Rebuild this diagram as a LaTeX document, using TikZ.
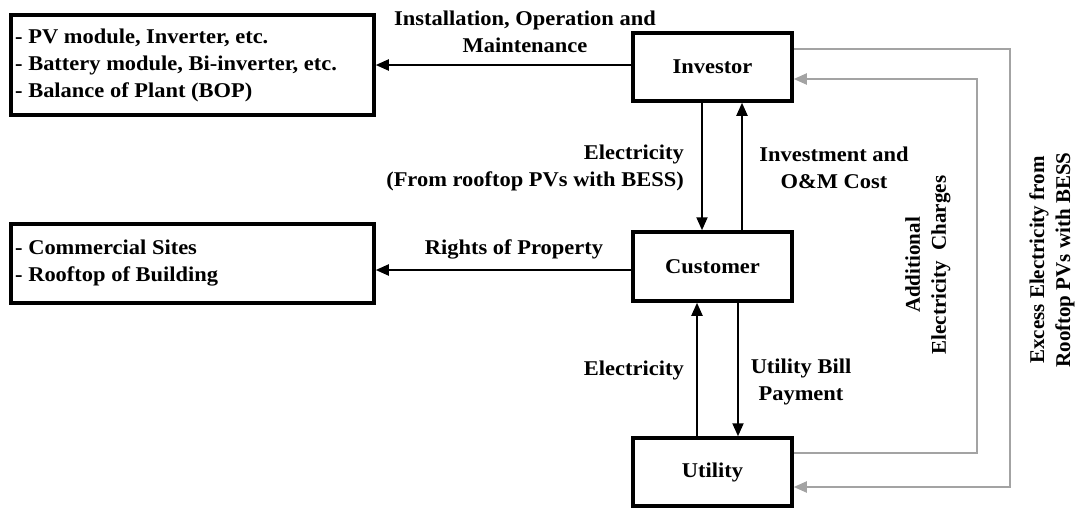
\documentclass[tikz,border=0pt]{standalone}
\usepackage{fontspec}
\setmainfont[FakeStretch=1.07]{Liberation Serif}
\newfontfamily\rotfont{Liberation Serif}
\usetikzlibrary{arrows.meta}
\definecolor{lgray}{HTML}{A3A3A3}
\begin{document}
\begin{tikzpicture}[x=1pt,y=-1pt,
  font=\fontsize{21}{27}\selectfont\bfseries,
  box/.style={draw,line width=3.5pt,minimum width=159pt,minimum height=68pt,inner sep=0pt},
  listbox/.style={draw,line width=3.5pt,inner sep=0pt,minimum width=363pt},
  arr/.style={line width=2pt,-{Triangle[length=13pt,width=11pt]}},
  garr/.style={line width=2pt,draw=lgray,-{Triangle[length=13pt,width=11pt,fill=lgray]}},
  lbl/.style={align=center,inner sep=0pt},
  rlbl/.style={align=right,inner sep=0pt,anchor=east},
  vlbl/.style={align=center,inner sep=0pt,rotate=90,font=\rotfont\fontsize{21}{26}\selectfont\bfseries}]
\useasboundingbox (0,0) rectangle (1082,507);
\node[listbox,minimum height=100pt] (b1) at (192.5,65) {};
\node[anchor=west,align=left,inner sep=0pt] (t1) at (15,65) {- PV module, Inverter, etc.\\- Battery module, Bi-inverter, etc.\\- Balance of Plant (BOP)};
\node[listbox,minimum height=79pt] (b2) at (192.5,263.5) {};
\node[anchor=west,align=left,inner sep=0pt] (t2) at (15,263.5) {- Commercial Sites\\- Rooftop of Building};
\node[box] (inv) at (712.5,67) {Investor};
\node[box,minimum height=69pt] (cus) at (712.5,266.5) {Customer};
\node[box] (uti) at (712.5,472) {Utility};
% black connectors
\draw[arr] ([yshift=2pt]inv.west) -- ([yshift=2pt]inv.west -| b1.east);
\draw[arr] ([yshift=-3.5pt]cus.west) -- ([yshift=-3.5pt]cus.west -| b2.east);
\draw[arr] ([xshift=-10.5pt]inv.south) -- ([xshift=-10.5pt]cus.north);
\draw[arr] ([xshift=29.5pt]cus.north) -- ([xshift=29.5pt]inv.south);
\draw[arr] ([xshift=-15.5pt]uti.north) -- ([xshift=-15.5pt]cus.south);
\draw[arr] ([xshift=25.5pt]cus.south) -- ([xshift=25.5pt]uti.north);
% gray connectors
\coordinate (g1) at (1010,49);
\coordinate (g2) at (977,453);
\draw[garr] ([yshift=18pt]inv.east) -- (g1) |- ([yshift=-15pt]uti.east);
\draw[garr] ([yshift=19pt]uti.east) -- (g2) |- ([yshift=-12pt]inv.east);
% labels
\node[lbl] (l1) at (525,32) {Installation, Operation and\\Maintenance};
\node[rlbl] (l2) at (684,167.5) {Electricity\\(From rooftop PVs with BESS)};
\node[lbl] (l3) at (834,167.5) {Investment and\\O\&M Cost};
\node[lbl] (l4) at (514,249) {Rights of Property};
\node[rlbl] (l5) at (684,370) {Electricity};
\node[lbl] (l6) at (801,381.5) {Utility Bill\\Payment};
\node[vlbl] (l7) at (928,265) {Additional\\Electricity~~Charges};
\node[vlbl] (l8) at (1052,260) {Excess Electricity from\\Rooftop PVs with BESS};
\end{tikzpicture}
\end{document}
